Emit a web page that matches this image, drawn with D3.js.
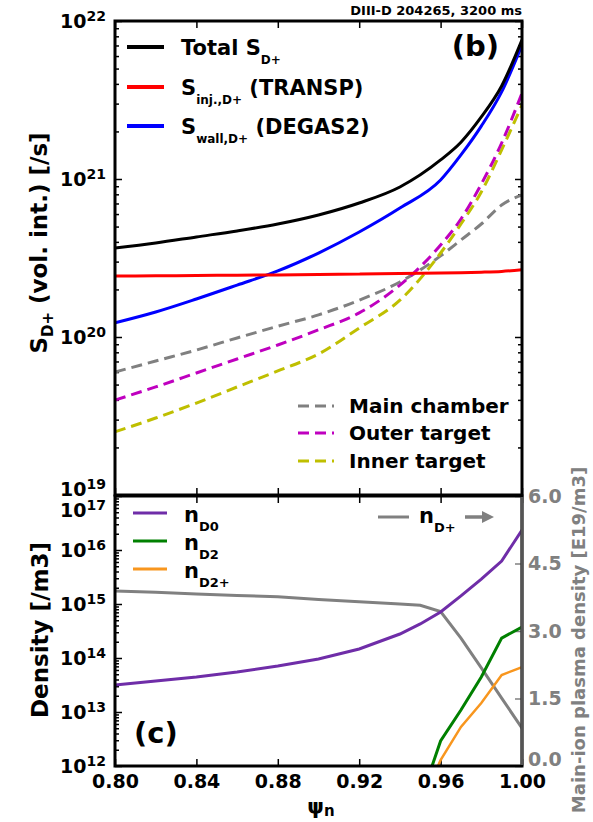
<!DOCTYPE html>
<html>
<head>
<meta charset="utf-8">
<script src="https://cdn.jsdelivr.net/npm/d3@7"></script>
<style>
  body { margin: 0; background: #fff; }
  text { font-family: "DejaVu Sans", sans-serif; font-weight: bold; }
</style>
</head>
<body>
<div id="chart"></div>
<script>
// psi_n grid for panel (b)
const psiTop = [0.80, 0.82, 0.84, 0.86, 0.88, 0.90, 0.92, 0.94, 0.96, 0.97, 0.98, 0.99, 1.00];
const sTotal = [3.66e20, 3.94e20, 4.30e20, 4.69e20, 5.19e20, 5.92e20, 7.05e20, 8.90e20, 1.32e21, 1.71e21, 2.47e21, 3.88e21, 7.59e21];
const sInj   = [2.43e20, 2.44e20, 2.45e20, 2.46e20, 2.47e20, 2.49e20, 2.50e20, 2.52e20, 2.54e20, 2.55e20, 2.57e20, 2.60e20, 2.66e20];
const sWall  = [1.23e20, 1.44e20, 1.74e20, 2.13e20, 2.62e20, 3.40e20, 4.62e20, 6.55e20, 9.86e20, 1.42e21, 2.16e21, 3.56e21, 7.05e21];
const sMain  = [6.0e19, 7.05e19, 8.27e19, 9.86e19, 1.17e20, 1.38e20, 1.71e20, 2.23e20, 3.26e20, 4.11e20, 5.19e20, 6.84e20, 7.93e20];
const sOuter = [3.99e19, 4.83e19, 5.92e19, 7.26e19, 8.90e19, 1.11e20, 1.42e20, 2.13e20, 3.82e20, 5.58e20, 9.29e20, 1.69e21, 3.50e21];
const sInner = [2.51e19, 3.07e19, 3.82e19, 4.83e19, 6.10e19, 7.80e19, 1.14e20, 1.71e20, 3.40e20, 5.19e20, 8.28e20, 1.53e21, 2.94e21];

// panel (c)
const psiBot = [0.80, 0.82, 0.84, 0.86, 0.88, 0.90, 0.92, 0.94, 0.95, 0.96, 0.97, 0.98, 0.99, 1.00];
const nD0  = [3.16e13, 3.75e13, 4.45e13, 5.51e13, 7.11e13, 9.58e13, 1.47e14, 2.78e14, 4.27e14, 7.11e14, 1.41e15, 2.90e15, 6.25e15, 2.34e16];
const nDp  = [3.89, 3.86, 3.82, 3.79, 3.76, 3.70, 3.65, 3.60, 3.57, 3.43, 2.84, 2.18, 1.51, 0.84]; // E19/m3, right axis
const psiMol = [0.95, 0.96, 0.97, 0.98, 0.99, 1.00];
const nD2  = [2.3e11, 2.9e12, 1.09e13, 4.45e13, 2.34e14, 3.75e14];
const nD2p = [1.8e11, 1.29e12, 5.3e12, 1.47e13, 4.84e13, 6.8e13];

const xTicks = [0.80, 0.84, 0.88, 0.92, 0.96, 1.00];
const topDecades = [1e19, 1e20, 1e21, 1e22];
const botDecades = [1e12, 1e13, 1e14, 1e15, 1e16, 1e17];
const rightTicks = [0, 1.5, 3.0, 4.5, 6.0];

const width = 593, height = 822;
const L = 115, R = 522;
const topY0 = 21, topY1 = 495, botY0 = 496, botY1 = 766;

const svg = d3.select("#chart").append("svg")
    .attr("width", width).attr("height", height);
svg.append("rect").attr("width", width).attr("height", height).attr("fill", "#fff");

const x = d3.scaleLinear().domain([0.8, 1.0]).range([L, R]);
const yTop = d3.scaleLog().domain([1e19, 1e22]).range([topY1, topY0]);
const yBot = d3.scaleLog().domain([1e12, 1e17]).range([botY1, botY0]);
const yR = d3.scaleLinear().domain([0, 6]).range([botY1, botY0]);

function minors(decades) {
    const out = [];
    decades.slice(0, -1).forEach(d => { for (let k = 2; k < 10; k++) out.push(d * k); });
    return out;
}

// clip paths
const defs = svg.append("defs");
defs.append("clipPath").attr("id", "clipTop").append("rect")
    .attr("x", L).attr("y", topY0).attr("width", R - L).attr("height", topY1 - topY0);
defs.append("clipPath").attr("id", "clipBot").append("rect")
    .attr("x", L).attr("y", botY0).attr("width", R - L).attr("height", botY1 - botY0);

function styleAxis(g, color) {
    g.select(".domain").remove();
    g.selectAll(".tick line").attr("stroke", color || "#000").attr("stroke-width", 1.5);
    g.selectAll(".tick text").attr("font-size", 19).attr("fill", color || "#000");
}

// ---- axes ticks (inward)
function xTickAxes(yA, yB, labels) {
    svg.append("g").attr("transform", `translate(0,${yA})`)
        .call(d3.axisTop(x).tickValues(xTicks).tickSizeInner(-7).tickSizeOuter(0).tickFormat(""))
        .call(styleAxis);
    svg.append("g").attr("transform", `translate(0,${yB})`)
        .call(d3.axisBottom(x).tickValues(xTicks).tickSizeInner(-7).tickSizeOuter(0).tickPadding(9)
            .tickFormat(labels ? d3.format(".2f") : ""))
        .call(styleAxis);
}
xTickAxes(topY0, topY1, false);
xTickAxes(botY0, botY1, true);

function logTicks(scale, decades, showRight) {
    svg.append("g").attr("transform", `translate(${L},0)`)
        .call(d3.axisLeft(scale).tickValues(decades).tickSizeInner(-7).tickSizeOuter(0).tickFormat(""))
        .call(styleAxis);
    svg.append("g").attr("transform", `translate(${L},0)`)
        .call(d3.axisLeft(scale).tickValues(minors(decades)).tickSizeInner(-4).tickSizeOuter(0).tickFormat(""))
        .call(styleAxis);
    if (showRight) {
        svg.append("g").attr("transform", `translate(${R},0)`)
            .call(d3.axisRight(scale).tickValues(decades).tickSizeInner(-7).tickSizeOuter(0).tickFormat(""))
            .call(styleAxis);
        svg.append("g").attr("transform", `translate(${R},0)`)
            .call(d3.axisRight(scale).tickValues(minors(decades)).tickSizeInner(-4).tickSizeOuter(0).tickFormat(""))
            .call(styleAxis);
    }
}
logTicks(yTop, topDecades, true);
logTicks(yBot, botDecades, false);

// power-of-ten labels
function powLabels(scale, decades, shift) {
    decades.forEach(d => {
        const e = Math.round(Math.log10(d));
        const t = svg.append("text")
            .attr("x", 106).attr("y", scale(d) + 7 + (shift[e] || 0))
            .attr("text-anchor", "end").attr("font-size", 19);
        t.append("tspan").text("10");
        t.append("tspan").attr("font-size", 14).attr("dy", -7).text(e);
    });
}
powLabels(yTop, topDecades, {19: -6});
powLabels(yBot, botDecades, {17: 14});

// right gray axis
svg.append("g").attr("transform", `translate(${R},0)`)
    .call(d3.axisRight(yR).tickValues(rightTicks).tickSizeInner(-7).tickSizeOuter(0).tickPadding(6)
        .tickFormat(d3.format(".1f")))
    .call(g => styleAxis(g, "#808080"))
    .call(g => g.selectAll(".tick text").filter(d => d === 0).attr("y", -7));

// ---- data lines
const lineTop = d3.line().curve(d3.curveMonotoneX).x(d => x(d[0])).y(d => yTop(d[1]));
const gTop = svg.append("g").attr("clip-path", "url(#clipTop)");
const topSeries = [
    {v: sMain,  color: "#808080", dash: "11,6"},
    {v: sInner, color: "#bfbf00", dash: "11,6"},
    {v: sOuter, color: "#bf00bf", dash: "11,6"},
    {v: sWall,  color: "#0000ff"},
    {v: sInj,   color: "#ff0000"},
    {v: sTotal, color: "#000000"}
];
topSeries.forEach(s => {
    gTop.append("path")
        .attr("d", lineTop(psiTop.map((p, i) => [p, s.v[i]])))
        .attr("fill", "none").attr("stroke", s.color).attr("stroke-width", 3)
        .attr("stroke-dasharray", s.dash || null);
});

const gBot = svg.append("g").attr("clip-path", "url(#clipBot)");
const lineBotL = d3.line().x(d => x(d[0])).y(d => yBot(d[1]));
const lineBotR = d3.line().x(d => x(d[0])).y(d => yR(d[1]));
gBot.append("path").attr("d", lineBotR(psiBot.map((p, i) => [p, nDp[i]])))
    .attr("fill", "none").attr("stroke", "#808080").attr("stroke-width", 3);
gBot.append("path").attr("d", lineBotL(psiBot.map((p, i) => [p, nD0[i]])))
    .attr("fill", "none").attr("stroke", "#6f2da8").attr("stroke-width", 3);
gBot.append("path").attr("d", lineBotL(psiMol.map((p, i) => [p, nD2[i]])))
    .attr("fill", "none").attr("stroke", "#008000").attr("stroke-width", 3);
gBot.append("path").attr("d", lineBotL(psiMol.map((p, i) => [p, nD2p[i]])))
    .attr("fill", "none").attr("stroke", "#f8961e").attr("stroke-width", 2.5);

// frames
svg.append("rect").attr("x", L).attr("y", topY0).attr("width", R - L).attr("height", topY1 - topY0)
    .attr("fill", "none").attr("stroke", "#000").attr("stroke-width", 3);
svg.append("rect").attr("x", L).attr("y", botY0).attr("width", R - L).attr("height", botY1 - botY0)
    .attr("fill", "none").attr("stroke", "#000").attr("stroke-width", 3);
svg.append("line").attr("x1", R).attr("x2", R).attr("y1", botY0 + 1).attr("y2", botY1 - 1)
    .attr("stroke", "#555").attr("stroke-width", 3);

// ---- texts
svg.append("text").attr("x", R).attr("y", 15).attr("text-anchor", "end")
    .attr("font-size", 13).text("DIII-D 204265, 3200 ms");
svg.append("text").attr("x", 499).attr("y", 56).attr("text-anchor", "end")
    .attr("font-size", 29).text("(b)");
svg.append("text").attr("x", 134).attr("y", 743)
    .attr("font-size", 29).text("(c)");

function subText(parent, main, sub, tail, subSize, subDy) {
    parent.append("tspan").text(main);
    parent.append("tspan").attr("font-size", subSize).attr("dy", subDy).text(sub);
    if (tail) parent.append("tspan").attr("dy", -subDy).text(tail);
}

// y labels
const yl1 = svg.append("text").attr("transform", "translate(47,243) rotate(-90)")
    .attr("text-anchor", "middle").attr("font-size", 23);
subText(yl1, "S", "D+", " (vol. int.) [/s]", 15, 6);

svg.append("text").attr("transform", "translate(48,630) rotate(-90)")
    .attr("text-anchor", "middle").attr("font-size", 23).text("Density [/m3]");

svg.append("text").attr("transform", "translate(585,640) rotate(-90)")
    .attr("text-anchor", "middle").attr("font-size", 18).attr("fill", "#808080")
    .text("Main-ion plasma density [E19/m3]");

const xl = svg.append("text").attr("x", 321).attr("y", 814).attr("text-anchor", "middle").attr("font-size", 21);
subText(xl, "ψ", "n", null, 15, 2);

// top legend
const legTop = [
    {color: "#000000", main: "Total S", sub: "D+", tail: ""},
    {color: "#ff0000", main: "S", sub: "inj.,D+", tail: " (TRANSP)"},
    {color: "#0000ff", main: "S", sub: "wall,D+", tail: " (DEGAS2)"}
];
const legTopY = [47, 87, 126];
legTop.forEach((d, i) => {
    svg.append("line").attr("x1", 127).attr("x2", 164).attr("y1", legTopY[i]).attr("y2", legTopY[i])
        .attr("stroke", d.color).attr("stroke-width", 4);
    const t = svg.append("text").attr("x", 181).attr("y", legTopY[i] + 8).attr("font-size", 21);
    subText(t, d.main, d.sub, d.tail, 12, 9);
});

// dashed legend
const legDash = [
    {color: "#808080", label: "Main chamber"},
    {color: "#bf00bf", label: "Outer target"},
    {color: "#bfbf00", label: "Inner target"}
];
const legDashY = [406, 433, 461];
legDash.forEach((d, i) => {
    svg.append("line").attr("x1", 298).attr("x2", 334).attr("y1", legDashY[i]).attr("y2", legDashY[i])
        .attr("stroke", d.color).attr("stroke-width", 3).attr("stroke-dasharray", "11,6");
    svg.append("text").attr("x", 349).attr("y", legDashY[i] + 7).attr("font-size", 20).text(d.label);
});

// bottom legend
const legBot = [
    {color: "#6f2da8", sub: "D0"},
    {color: "#008000", sub: "D2"},
    {color: "#f8961e", sub: "D2+"}
];
const legBotY = [513, 541, 569];
legBot.forEach((d, i) => {
    svg.append("line").attr("x1", 133).attr("x2", 167).attr("y1", legBotY[i]).attr("y2", legBotY[i])
        .attr("stroke", d.color).attr("stroke-width", 3);
    const t = svg.append("text").attr("x", 184).attr("y", legBotY[i] + 9).attr("font-size", 21);
    subText(t, "n", d.sub, null, 13, 9);
});

// n_D+ arrow legend
svg.append("line").attr("x1", 378).attr("x2", 409).attr("y1", 517).attr("y2", 517)
    .attr("stroke", "#808080").attr("stroke-width", 3);
const nt = svg.append("text").attr("x", 419).attr("y", 523).attr("font-size", 21);
subText(nt, "n", "D+", null, 13, 9);
svg.append("line").attr("x1", 465).attr("x2", 484).attr("y1", 517).attr("y2", 517)
    .attr("stroke", "#808080").attr("stroke-width", 3.5);
svg.append("path").attr("d", "M482,511 L494,517 L482,523 Z").attr("fill", "#808080");
</script>
</body>
</html>
